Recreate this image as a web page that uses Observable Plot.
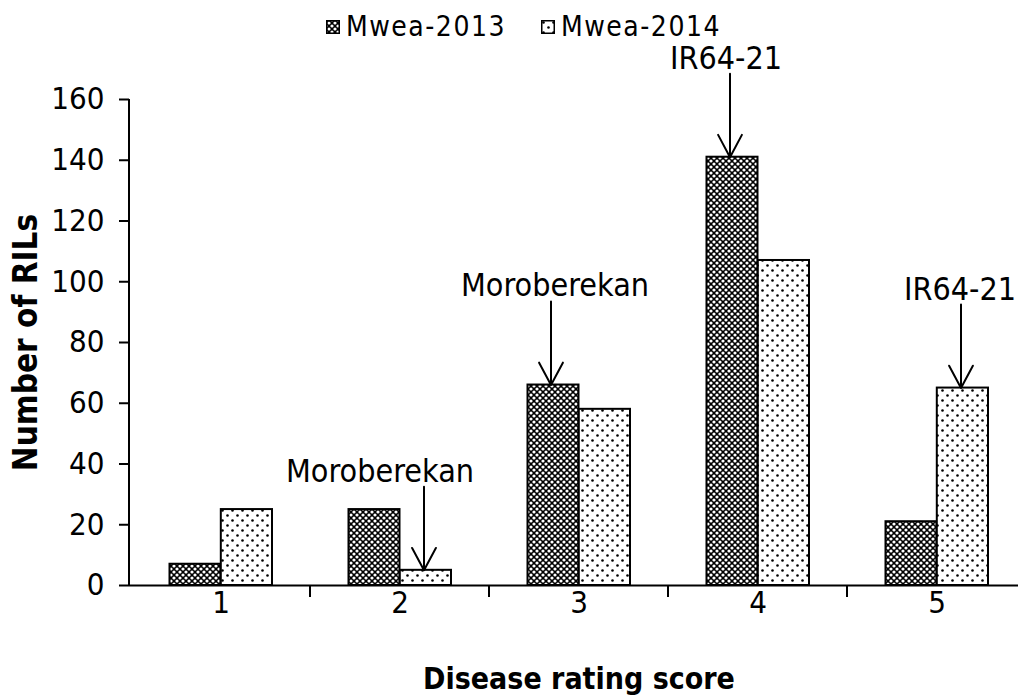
<!DOCTYPE html>
<html>
<head>
<meta charset="utf-8">
<script src="https://cdn.jsdelivr.net/npm/d3@7"></script>
<script src="https://cdn.jsdelivr.net/npm/@observablehq/plot@0.6"></script>
<style>
  body { margin: 0; background: #fff; }
  #legend { position: relative; width: 1018px; height: 38px; font-family: "Liberation Sans Narrow", "Arial Narrow", "DejaVu Sans Condensed", sans-serif; }
  #legend .sw { position: absolute; top: 20px; width: 14px; height: 14px; }
  #legend .lab { position: absolute; top: 15px; font-size: 28px; line-height: 24px; letter-spacing: 1.5px; color: #000; }
  #chart svg { overflow: visible; }
</style>
</head>
<body>
<div id="legend"></div>
<div id="chart"></div>
<script>
// ---------------- data ----------------
const scores = ["1", "2", "3", "4", "5"];
const seriesNames = ["Mwea-2013", "Mwea-2014"];
const mwea2013 = [7, 25, 66, 141, 21];
const mwea2014 = [25, 5, 58, 107, 65];
const yTicks = [0, 20, 40, 60, 80, 100, 120, 140, 160];
const annLabels = ["Moroberekan", "Moroberekan", "IR64-21", "IR64-21"];
const annScores = ["2", "3", "4", "5"];
const annSeries = ["Mwea-2014", "Mwea-2013", "Mwea-2013", "Mwea-2014"];
const xTitle = "Disease rating score";
const yTitle = "Number of RILs";

// ---------------- tables ----------------
const rows = scores.flatMap((s, i) => [
  {score: s, series: seriesNames[0], value: mwea2013[i]},
  {score: s, series: seriesNames[1], value: mwea2014[i]}
]);
const ann = annLabels.map((label, i) => ({
  label,
  score: annScores[i],
  series: annSeries[i],
  value: rows.find(r => r.score === annScores[i] && r.series === annSeries[i]).value
}));

// ---------------- styles ----------------
const FONT = '"Liberation Sans Narrow", "Arial Narrow", "DejaVu Sans Condensed", sans-serif';
const W = 1018, H = 658;
const arrowLen = 27.5;
const annTextDx = [-20, -24, -32, 23];
const annArrowDx = {"Mwea-2013": -28, "Mwea-2014": 24};

function addPatterns(defs, suffix) {
  const p1 = defs.append("pattern").attr("id", "pat13" + suffix)
    .attr("patternUnits", "userSpaceOnUse").attr("width", 6).attr("height", 6);
  p1.append("rect").attr("width", 6).attr("height", 6).attr("fill", "#000");
  [[0, 0], [6, 0], [0, 6], [6, 6], [3, 3]].forEach(([cx, cy]) =>
    p1.append("circle").attr("cx", cx).attr("cy", cy).attr("r", 1.6).attr("fill", "#fff"));
  const p2 = defs.append("pattern").attr("id", "pat14" + suffix)
    .attr("patternUnits", "userSpaceOnUse").attr("width", 10).attr("height", 10);
  p2.append("rect").attr("width", 10).attr("height", 10).attr("fill", "#fff");
  [[2.5, 2.5], [7.5, 7.5]].forEach(([cx, cy]) =>
    p2.append("circle").attr("cx", cx).attr("cy", cy).attr("r", 1.3).attr("fill", "#000"));
}

function decorations(index, scales, values, dimensions) {
  const {x, y} = scales;
  const g = d3.create("svg:g");
  addPatterns(g.append("defs"), "");
  // y axis line
  g.append("line")
    .attr("x1", dimensions.marginLeft).attr("x2", dimensions.marginLeft)
    .attr("y1", y(yTicks[yTicks.length - 1])).attr("y2", y(0))
    .attr("stroke", "#000").attr("stroke-width", 2);
  // category boundary ticks below x axis
  scores.slice(1).forEach(s => {
    g.append("line")
      .attr("x1", x(s)).attr("x2", x(s))
      .attr("y1", y(0)).attr("y2", y(0) + 12)
      .attr("stroke", "#000").attr("stroke-width", 2);
  });
  return g.node();
}

// ---------------- legend ----------------
const legend = d3.select("#legend");
const legendPos = [{sw: 326, lab: 346}, {sw: 541, lab: 561}];
seriesNames.forEach((name, i) => {
  const s = legend.append("svg").attr("class", "sw")
    .style("left", legendPos[i].sw + "px").attr("width", 14).attr("height", 14);
  addPatterns(s.append("defs"), "L");
  s.append("rect").attr("x", 0.75).attr("y", 0.75).attr("width", 12.5).attr("height", 12.5)
    .attr("fill", i === 0 ? "url(#pat13L)" : "url(#pat14L)").attr("stroke", "#000").attr("stroke-width", 1.5);
  legend.append("span").attr("class", "lab").style("left", legendPos[i].lab + "px").text(name);
});

// ---------------- chart ----------------
const chart = Plot.plot({
  width: W,
  height: H,
  marginLeft: 129,
  marginRight: 0,
  marginTop: 61,
  marginBottom: 111,
  style: {fontFamily: FONT, background: "#fff", color: "#000"},
  x: {type: "band", domain: scores, range: [129, 1027], padding: 0},
  y: {domain: [0, 160]},
  marks: [
    Plot.barY(rows.filter(d => d.series === seriesNames[0]), {
      x: "score", y: "value", fill: "url(#pat13)", stroke: "#000", strokeWidth: 2,
      insetLeft: 38.5, insetRight: 89.5
    }),
    Plot.barY(rows.filter(d => d.series === seriesNames[1]), {
      x: "score", y: "value", fill: "url(#pat14)", stroke: "#000", strokeWidth: 2,
      insetLeft: 89.8, insetRight: 38
    }),
    Plot.ruleY([0], {stroke: "#000", strokeWidth: 2}),
    Plot.axisY({ticks: yTicks, tickSize: 10, tickPadding: 15, fontSize: 31, label: null, strokeWidth: 2}),
    Plot.axisX({tickSize: 0, tickPadding: 5, fontSize: 31, label: null}),
    decorations,
    ...seriesNames.map(sn => Plot.arrow(ann.filter(d => d.series === sn), {
      x: "score", y1: d => d.value + arrowLen, y2: "value",
      dx: annArrowDx[sn], stroke: "#000", strokeWidth: 2, headLength: 19, headAngle: 56
    })),
    ...ann.map((a, i) => Plot.text([a], {
      x: "score", y: d => d.value + arrowLen, text: "label",
      dx: annTextDx[i], dy: -5, lineAnchor: "bottom", fontSize: 32, fill: "#000"
    })),
    Plot.text([yTitle], {
      frameAnchor: "left", textAnchor: "middle", lineAnchor: "middle", rotate: -90, dx: -103,
      fontSize: 33, fontWeight: "bold", fill: "#000"
    }),
    Plot.text([xTitle], {
      frameAnchor: "bottom", textAnchor: "middle", lineAnchor: "middle", dx: 5, dy: 94,
      fontSize: 30, fontWeight: "bold", letterSpacing: 1, fill: "#000"
    })
  ]
});
document.getElementById("chart").append(chart);
</script>
</body>
</html>
